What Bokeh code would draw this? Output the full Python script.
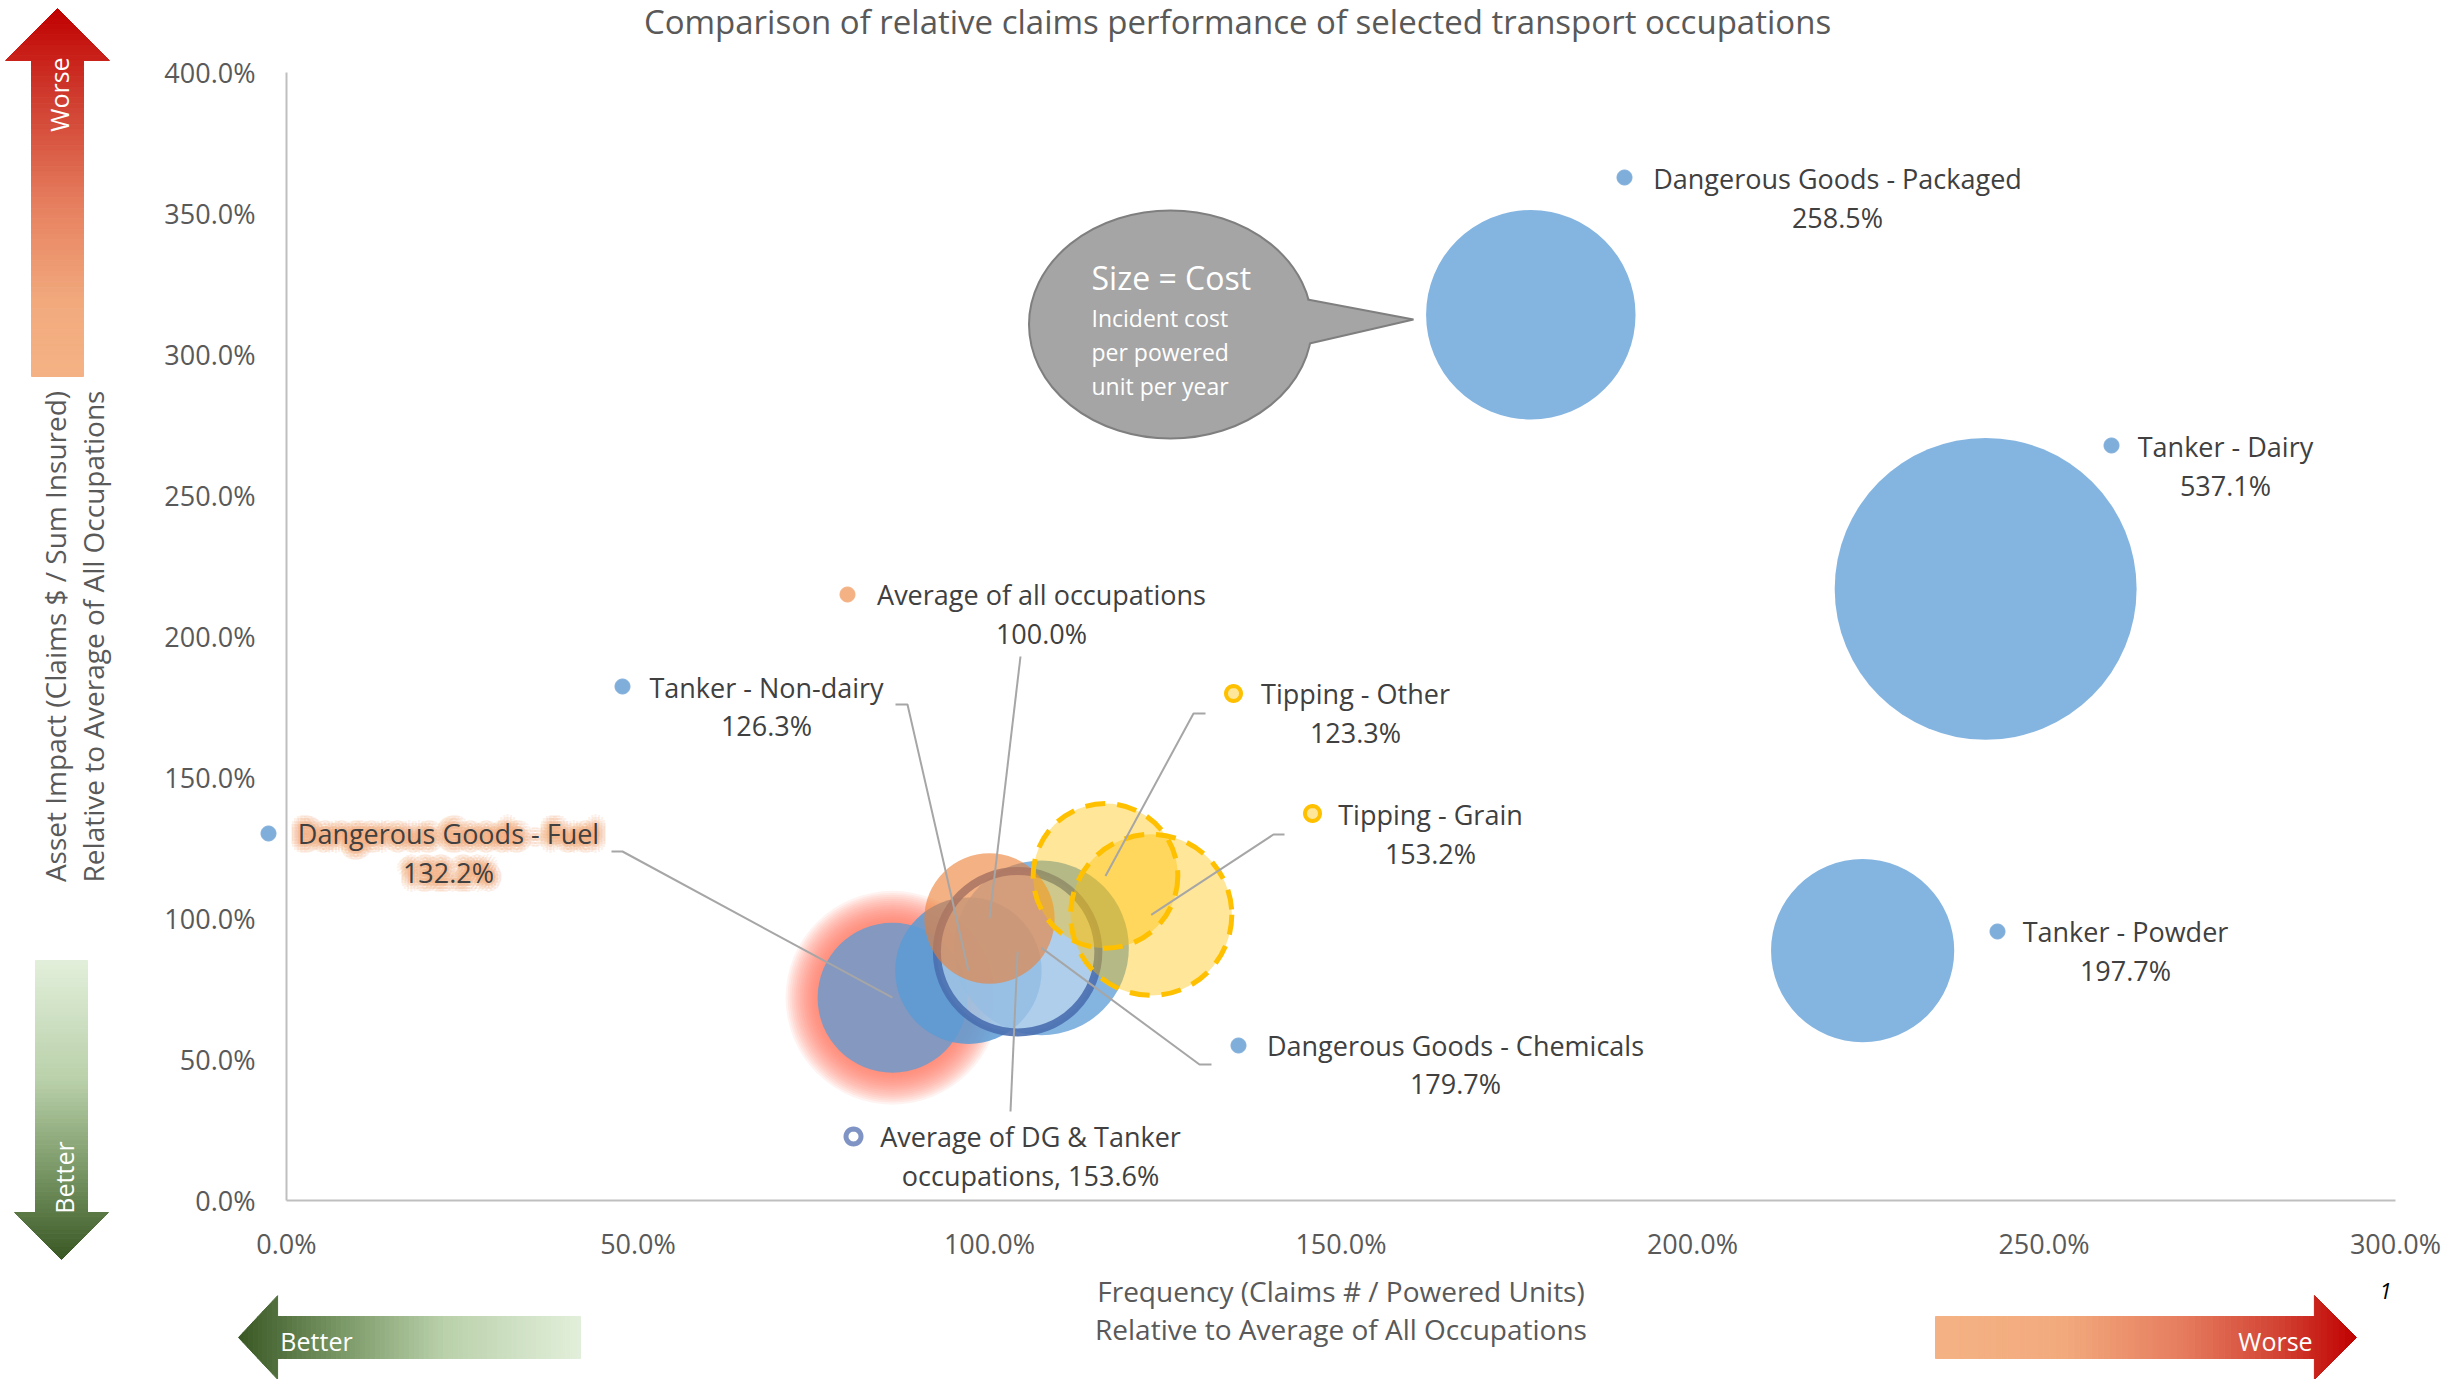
import numpy as np
from bokeh.plotting import figure
from bokeh.models import Range1d, FixedTicker, PrintfTickFormatter, Label, PolyAnnotation
from bokeh.embed import file_html
from bokeh.resources import INLINE

# ---------------- data ----------------
occupations = ["Dangerous Goods - Fuel", "Tanker - Non-dairy", "Dangerous Goods - Chemicals",
               "Average of DG & Tanker occupations", "Average of all occupations",
               "Tipping - Other", "Tipping - Grain", "Dangerous Goods - Packaged",
               "Tanker - Dairy", "Tanker - Powder"]
frequency = [86.2, 97.0, 107.4, 104.0, 100.0, 116.5, 123.0, 177.0, 241.7, 224.2]      # % of average
asset_impact = [71.9, 81.5, 89.6, 88.2, 100.0, 115.1, 101.3, 314.1, 216.9, 88.6]      # % of average
incident_cost = [132.2, 126.3, 179.7, 153.6, 100.0, 123.3, 153.2, 258.5, 537.1, 197.7]  # bubble size
x_ticks = [0, 50, 100, 150, 200, 250, 300]
y_ticks = [0, 50, 100, 150, 200, 250, 300, 350, 400]

# ---------------- geometry (canvas pixels) ----------------
CW, CH = 2451, 1379
AX_L, AX_R, AX_T, AX_B = 286, 2395, 72, 1200   # where the axes 0..300 / 0..400 sit
XMAX, YMAX = 300.0, 400.0


def X(rx):  # canvas pixel -> data x
    return (rx - AX_L) / (AX_R - AX_L) * XMAX


def Y(ry):  # canvas pixel -> data y
    return (AX_B - ry) / (AX_B - AX_T) * YMAX


BUBBLE_SCALE = 6.514  # px radius per sqrt(%)

p = figure(frame_width=CW, frame_height=CH, x_range=Range1d(X(0), X(CW)), y_range=Range1d(Y(CH), Y(0)),
           output_backend="svg", toolbar_location=None,
           min_border_left=0, min_border_right=0, min_border_top=0, min_border_bottom=0)
p.outline_line_color = None
p.xgrid.visible = False
p.ygrid.visible = False
p.background_fill_color = "white"
p.border_fill_color = "white"

FONT = "Open Sans"
GREY = "#595959"
for ax in (p.xaxis[0], p.yaxis[0]):
    ax.fixed_location = 0
    ax.axis_line_color = "#BFBFBF"
    ax.axis_line_width = 2
    ax.major_tick_line_color = None
    ax.minor_tick_line_color = None
    ax.major_label_text_font = FONT
    ax.major_label_text_font_size = "27px"
    ax.major_label_text_color = GREY
    ax.formatter = PrintfTickFormatter(format="%.1f%%")
    ax.axis_label_text_font = FONT
    ax.axis_label_text_font_size = "28px"
    ax.axis_label_text_font_style = "normal"
    ax.axis_label_text_color = GREY
    ax.axis_label_text_line_height = 1.0
p.xaxis.bounds = (0, XMAX)
p.yaxis.bounds = (0, YMAX)
p.xaxis.ticker = FixedTicker(ticks=x_ticks)
p.yaxis.ticker = FixedTicker(ticks=y_ticks)
p.xaxis.major_label_standoff = 18
p.yaxis.major_label_standoff = 25
p.xaxis.axis_label = "Frequency (Claims # / Powered Units)\nRelative to Average of All Occupations"
p.yaxis.axis_label = "Asset Impact (Claims $ / Sum Insured)\nRelative to Average of All Occupations"
p.xaxis.axis_label_standoff = 7
p.yaxis.axis_label_standoff = 49

idx = {n: i for i, n in enumerate(occupations)}
radius = [BUBBLE_SCALE * np.sqrt(c) for c in incident_cost]

BLUE = "#5B9BD5"
styles = {
    "Dangerous Goods - Fuel": dict(fill_color=BLUE, fill_alpha=0.75, line_color=None),
    "Tanker - Non-dairy": dict(fill_color=BLUE, fill_alpha=0.85, line_color=None),
    "Dangerous Goods - Chemicals": dict(fill_color=BLUE, fill_alpha=0.75, line_color=None),
    "Average of DG & Tanker occupations": dict(fill_color="white", fill_alpha=0.35,
                                                line_color="#4A6FB0", line_alpha=0.9, line_width=8),
    "Average of all occupations": dict(fill_color="#ED7D31", fill_alpha=0.6, line_color=None),
    "Tipping - Other": dict(fill_color="#FFC000", fill_alpha=0.4, line_color="#FFC000",
                            line_width=5, line_dash="20 12"),
    "Tipping - Grain": dict(fill_color="#FFC000", fill_alpha=0.4, line_color="#FFC000",
                            line_width=5, line_dash="20 12"),
    "Dangerous Goods - Packaged": dict(fill_color=BLUE, fill_alpha=0.75, line_color=None),
    "Tanker - Dairy": dict(fill_color=BLUE, fill_alpha=0.75, line_color=None),
    "Tanker - Powder": dict(fill_color=BLUE, fill_alpha=0.75, line_color=None),
}

# red glow behind Dangerous Goods - Fuel
gi = idx["Dangerous Goods - Fuel"]
for k in range(16):
    p.circle(x=[frequency[gi]], y=[asset_impact[gi]], radius=[radius[gi] + 32 - 2 * k],
             radius_units="screen", fill_color="#FF7858", fill_alpha=0.085, line_color=None)

for n in occupations:
    i = idx[n]
    p.circle(x=[frequency[i]], y=[asset_impact[i]], radius=[radius[i]], radius_units="screen", **styles[n])

# speech-bubble callout
p.ellipse(x=[X(1170)], y=[Y(324)], width=[283], height=[228], width_units="screen",
          height_units="screen", fill_color="#A5A5A5", line_color="#7F7F7F", line_width=2)
p.patch(x=[X(1300), X(1413), X(1300)], y=[Y(298), Y(319), Y(345)], fill_color="#A5A5A5", line_color=None)
p.line(x=[X(1307), X(1413), X(1309)], y=[Y(299), Y(319), Y(343)], line_color="#7F7F7F", line_width=2)

# labels layout (canvas px): dot, text centre x, line1 y, line2 y, leader points
layout = {
    "Dangerous Goods - Fuel": ((268, 833), 448, 833, 872, [(611, 851), (622, 851)]),
    "Tanker - Non-dairy": ((622, 686), 766, 687, 725, [(895, 704), (907, 704)]),
    "Dangerous Goods - Chemicals": ((1238, 1045), 1455, 1045, 1083, [(1211, 1064), (1199, 1064)]),
    "Average of DG & Tanker occupations": ((853, 1136), 1030, 1136, 1175, [(1010, 1111)]),
    "Average of all occupations": ((847, 594), 1041, 594, 633, [(1020, 656)]),
    "Tipping - Other": ((1233, 693), 1355, 693, 732, [(1205, 713), (1193, 713)]),
    "Tipping - Grain": ((1312, 813), 1430, 814, 853, [(1284, 834), (1273, 834)]),
    "Dangerous Goods - Packaged": ((1624, 177), 1837, 178, 217, []),
    "Tanker - Dairy": ((2111, 445), 2225, 446, 485, []),
    "Tanker - Powder": ((1997, 931), 2125, 931, 970, []),
}
first_line = {"Average of DG & Tanker occupations": "Average of DG & Tanker"}
second_prefix = {"Average of DG & Tanker occupations": "occupations, "}

# leader lines
for n, (dot, cx, y1, y2, pts) in layout.items():
    if pts:
        i = idx[n]
        p.line(x=[X(a) for a, b in pts] + [frequency[i]], y=[Y(b) for a, b in pts] + [asset_impact[i]],
               line_color="#A6A6A6", line_width=2)

# soft orange glow behind the "Dangerous Goods - Fuel" label text
fi = idx["Dangerous Goods - Fuel"]
dot, cx, y1, y2, pts = layout["Dangerous Goods - Fuel"]
for txt, yy in ((occupations[fi], y1), ("%.1f%%" % incident_cost[fi], y2)):
    for rr in (3, 6, 9):
        for a in np.linspace(0, 2 * np.pi, 16, endpoint=False):
            p.add_layout(Label(x=X(cx), y=Y(yy), text=txt, text_align="center", text_baseline="middle",
                               x_offset=float(rr * np.cos(a)), y_offset=float(rr * np.sin(a)),
                               text_font=FONT, text_font_size="27px", text_color="#F4B183",
                               text_alpha=0.18))

dot_styles = {
    "Average of all occupations": dict(fill_color="#F4B183", line_color="#F4B183", line_width=1),
    "Tipping - Other": dict(fill_color="#FFE699", line_color="#FFC000", line_width=4),
    "Tipping - Grain": dict(fill_color="#FFE699", line_color="#FFC000", line_width=4),
    "Average of DG & Tanker occupations": dict(fill_color="white", line_color="#7F93C4", line_width=5),
}
th = np.linspace(0, 2 * np.pi, 33)[:-1]
for n, (dot, cx, y1, y2, pts) in layout.items():
    i = idx[n]
    st = dot_styles.get(n, dict(fill_color="#7FAEDB", line_color="#7FAEDB", line_width=1))
    r = 7.5
    p.add_layout(PolyAnnotation(xs=[X(dot[0] + r * np.cos(t)) for t in th],
                                ys=[Y(dot[1] + r * np.sin(t)) for t in th],
                                fill_alpha=1, line_alpha=1, **st))
    t1 = first_line.get(n, n)
    t2 = second_prefix.get(n, "") + "%.1f%%" % incident_cost[i]
    for txt, yy in ((t1, y1), (t2, y2)):
        p.add_layout(Label(x=X(cx), y=Y(yy), text=txt, text_align="center", text_baseline="middle",
                           text_font=FONT, text_font_size="27px", text_color="#404040"))

# callout text
for txt, yy, fs in (("Size = Cost", 277, "32px"), ("Incident cost", 317, "23px"),
                    ("per powered", 351, "23px"), ("unit per year", 385, "23px")):
    p.add_layout(Label(x=X(1091), y=Y(yy), text=txt, text_align="left", text_baseline="middle",
                       text_font=FONT, text_font_size=fs, text_color="white"))

# title and footnote marker
p.add_layout(Label(x=X(1237), y=Y(21), text="Comparison of relative claims performance of selected transport occupations",
                   text_align="center", text_baseline="middle", text_font=FONT, text_font_size="33px",
                   text_color=GREY))
p.add_layout(Label(x=X(2385), y=Y(1290), text="1", text_align="center", text_baseline="middle",
                   text_font=FONT, text_font_size="22px", text_font_style="italic", text_color="black"))


# gradient arrows
def lerp(stops, t):
    for (t0, c0), (t1, c1) in zip(stops[:-1], stops[1:]):
        if t <= t1:
            u = (t - t0) / (t1 - t0) if t1 > t0 else 0
            return "#%02x%02x%02x" % tuple(int(round(a + (b - a) * u)) for a, b in zip(c0, c1))
    return "#%02x%02x%02x" % stops[-1][1]


def arrow(tip, head_base, tail, center, shaft_half, head_half, vertical, stops, n=70):
    L = tail - tip
    hb = (head_base - tip) / L
    ss = sorted(set([round(v, 6) for v in np.linspace(0, 1, n + 1)] + [round(hb, 6)]))
    for a, b in zip(ss[:-1], ss[1:]):
        if b <= hb + 1e-9:
            wa, wb = head_half * a / hb, head_half * b / hb
        else:
            wa = wb = shaft_half
        pa, pb = tip + a * L, tip + b * L
        col = lerp(stops, (a + b) / 2)
        if vertical:
            pts = [(center - wa, pa), (center + wa, pa), (center + wb, pb), (center - wb, pb)]
        else:
            pts = [(pa, center - wa), (pa, center + wa), (pb, center + wb), (pb, center - wb)]
        p.add_layout(PolyAnnotation(xs=[X(u) for u, v in pts], ys=[Y(v) for u, v in pts],
                                    fill_color=col, fill_alpha=1, line_color=col, line_alpha=1,
                                    line_width=1))


RED_STOPS = [(0, (192, 0, 0)), (0.25, (208, 62, 48)), (0.55, (231, 130, 97)), (0.8, (242, 170, 125)),
             (1, (244, 178, 132))]
GREEN_STOPS = [(0, (56, 87, 35)), (0.3, (122, 152, 102)), (0.6, (185, 208, 170)), (1, (226, 239, 218))]
arrow(8, 60, 376, 57, 26, 52, True, RED_STOPS)
arrow(1259, 1208, 960, 61, 26, 51, True, GREEN_STOPS)
arrow(238, 281, 580, 1337, 21, 46, False, GREEN_STOPS)
RED_H = [(0, (192, 0, 0)), (0.18, (210, 65, 50)), (0.42, (230, 125, 95)), (0.7, (242, 170, 125)),
         (1, (244, 178, 132))]
arrow(2356, 2310, 1935, 1337, 21, 46, False, RED_H)

for txt, rx, ry, ang in (("Worse", 58, 94, np.pi / 2), ("Better", 63, 1177, np.pi / 2),
                         ("Better", 316, 1340, 0), ("Worse", 2275, 1340, 0)):
    p.add_layout(Label(x=X(rx), y=Y(ry), text=txt, angle=float(ang), text_align="center",
                       text_baseline="middle", text_font=FONT, text_font_size="25px", text_color="white"))

open("out.html", "w").write(file_html(p, INLINE))
